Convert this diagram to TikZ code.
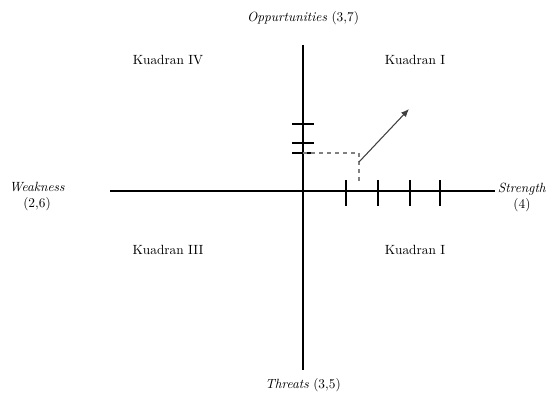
\documentclass[tikz,border=0pt]{standalone}
\usepackage{xcolor}
\usepackage{amsmath}
\usepackage{tikz}
\usetikzlibrary{arrows.meta}

\begin{document}
\begin{tikzpicture}[x=0.75pt,y=-0.75pt]
            \useasboundingbox (0,0) rectangle (557,398);
            \tikzset{axis/.style={line width=1.8pt},
                     tickmark/.style={line width=1.6pt},
                     lbl/.style={font=\normalsize, align=center, inner sep=1pt}}
            
            % axes
            \coordinate (top) at (303,45);
            \coordinate (bottom) at (303,370);
            \coordinate (left) at (110,191);
            \coordinate (right) at (495,191);
            \coordinate (origin) at (303,191);
            \draw[axis] (top) -- (bottom);
            \draw[axis] (left) -- (right);
            
            % ticks on the axes
            \foreach \y in {124,143,153}
                \draw[tickmark] (292,\y) -- (314,\y);
            \foreach \x in {346,378,410,440}
                \draw[tickmark] (\x,180) -- (\x,206);
            
            % position
            \coordinate (ylev) at (303,153);
            \coordinate (pos) at (359,153);
            \coordinate (xlev) at (359,182);
            \coordinate (start) at (359,162);
            \coordinate (tip) at (409,109);
            \draw[dashed, gray, line width=0.9pt] (ylev) -- (pos) -- (xlev);
            \draw[-{Latex[length=6pt,width=5pt]}, black!75, line width=0.8pt] (start) -- (tip);
            
            % labels
            \node[lbl] (opp) at (303,18) {\textit{Oppurtunities} (3,7)};
            \node[lbl] (thr) at (303,385) {\textit{Threats} (3,5)};
            \node[lbl] (weak) at (37,197) {\textit{Weakness}\\(2,6)};
            \node[lbl] (str) at (522,197) {\textit{Strength}\\(4)};
            
            \node[lbl] (k4) at (168,60) {Kuadran IV};
            \node[lbl] (k1) at (415,60) {Kuadran I};
            \node[lbl] (k3) at (168,250) {Kuadran III};
            \node[lbl] (k2) at (415,250) {Kuadran I};
         \end{tikzpicture}
\end{document}
